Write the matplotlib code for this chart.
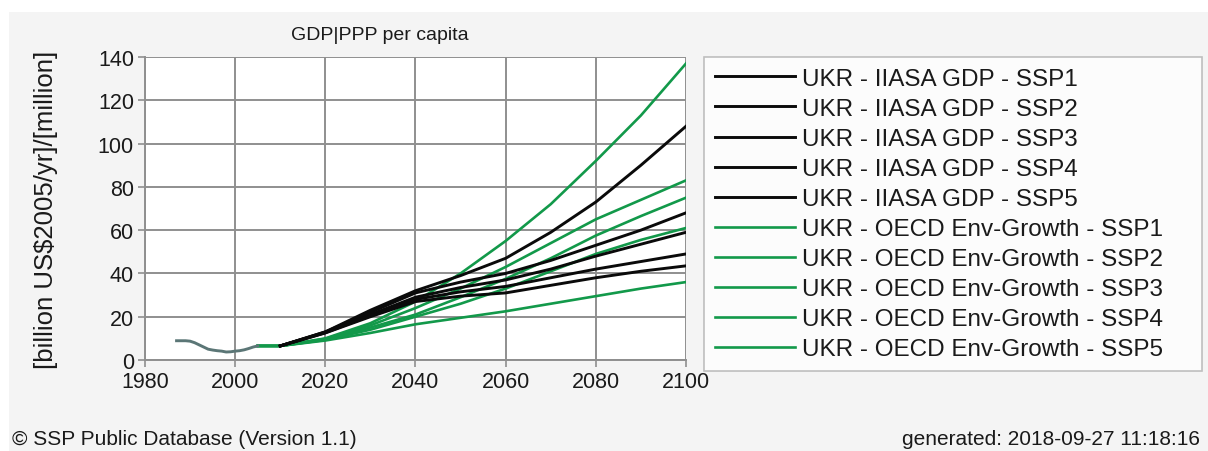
import matplotlib
matplotlib.use('Agg')
import matplotlib.pyplot as plt
from matplotlib.patches import Rectangle

plt.rcParams['font.family'] = ['Liberation Sans', 'DejaVu Sans']

# historical data (grey line)
hist_years = [1987, 1988, 1989, 1990, 1991, 1992, 1993, 1994, 1995, 1996,
              1997, 1998, 1999, 2000, 2001, 2002, 2003, 2004, 2005]
hist_vals = [8.9, 8.9, 8.9, 8.7, 8.0, 7.0, 6.0, 5.0, 4.6, 4.3,
             4.1, 3.7, 3.8, 4.1, 4.3, 4.7, 5.3, 6.0, 6.5]

# IIASA GDP projections (black)
iiasa_years = [2010, 2020, 2030, 2040, 2050, 2060, 2070, 2080, 2090, 2100]
iiasa_ssp1 = [6.5, 13.0, 22.0, 31.0, 36.0, 40.0, 46.0, 53.0, 60.0, 68.0]
iiasa_ssp2 = [6.5, 12.8, 21.0, 29.0, 33.5, 37.0, 42.0, 48.0, 53.5, 59.0]
iiasa_ssp3 = [6.5, 12.5, 20.0, 27.0, 29.5, 31.0, 34.5, 38.0, 41.0, 43.5]
iiasa_ssp4 = [6.5, 12.6, 20.5, 28.0, 31.5, 34.0, 38.0, 42.0, 45.5, 49.0]
iiasa_ssp5 = [6.5, 13.0, 23.0, 32.0, 39.0, 47.0, 59.0, 73.0, 90.0, 108.0]

# OECD Env-Growth projections (green)
oecd_years = [2005, 2010, 2020, 2030, 2040, 2050, 2060, 2070, 2080, 2090, 2100]
oecd_ssp1 = [6.5, 6.5, 9.8, 16.0, 24.0, 33.0, 43.0, 54.0, 65.0, 74.0, 83.0]
oecd_ssp2 = [6.5, 6.5, 9.5, 15.0, 21.0, 29.0, 37.5, 47.0, 57.5, 66.5, 75.0]
oecd_ssp3 = [6.5, 6.5, 9.0, 12.5, 16.5, 19.5, 22.5, 26.0, 29.5, 33.0, 36.0]
oecd_ssp4 = [6.5, 6.5, 9.3, 14.0, 20.0, 26.0, 33.0, 41.0, 49.0, 55.5, 61.0]
oecd_ssp5 = [6.5, 6.5, 10.0, 17.0, 27.0, 40.0, 55.0, 72.0, 92.0, 113.0, 137.0]

iiasa = [iiasa_ssp1, iiasa_ssp2, iiasa_ssp3, iiasa_ssp4, iiasa_ssp5]
oecd = [oecd_ssp1, oecd_ssp2, oecd_ssp3, oecd_ssp4, oecd_ssp5]

BLACK = '#0a0a0a'
GREEN = '#12994a'
GRID = '#8f8f8f'
TEXT = '#1a1a1a'

fig = plt.figure(figsize=(12.08, 4.52), dpi=100, facecolor='white')
# grey panel behind everything
fig.patches.append(Rectangle((9 / 1208, 0), 1, 1 - 13 / 452, transform=fig.transFigure,
                             facecolor='#f4f4f4', edgecolor='none', zorder=-10))

ax = fig.add_axes([145 / 1208, 1 - 361 / 452, 541 / 1208, 303 / 452])
ax.set_facecolor('white')

black_handles = []
green_handles = []
for i, vals in enumerate(oecd):
    h, = ax.plot(oecd_years, vals, color=GREEN, lw=1.9, zorder=3,
                 label=f'UKR - OECD Env-Growth - SSP{i + 1}')
    green_handles.append(h)
for i, vals in enumerate(iiasa):
    h, = ax.plot(iiasa_years, vals, color=BLACK, lw=2.1, zorder=4,
                 label=f'UKR - IIASA GDP - SSP{i + 1}')
    black_handles.append(h)
ax.plot(hist_years, hist_vals, color='#5b7676', lw=2.1, zorder=4)

ax.set_xlim(1980, 2100)
ax.set_ylim(0, 140)
ax.set_xticks(range(1980, 2101, 20))
ax.set_yticks(range(0, 141, 20))
ax.grid(True, color=GRID, lw=1.4)
ax.set_axisbelow(True)
for side in ['top', 'right']:
    ax.spines[side].set_visible(False)
for side in ['left', 'bottom']:
    ax.spines[side].set_color(GRID)
    ax.spines[side].set_linewidth(1.4)
ax.tick_params(axis='both', colors=GRID, labelcolor=TEXT, labelsize=15.5,
               length=5, width=1.2, pad=3)

ax.set_ylabel('[billion US$2005/yr]/[million]', fontsize=18.5, color=TEXT)
ax.yaxis.set_label_coords(-0.16, 0.5)

fig.text(380 / 1208, 1 - 36 / 452, 'GDP|PPP per capita', ha='center', va='center',
         fontsize=14, color=TEXT)

leg = fig.legend(handles=black_handles + green_handles, loc='upper left',
                 bbox_to_anchor=(704 / 1208, 1 - 58 / 452, 498 / 1208, 0.0),
                 mode='expand', fontsize=17.5, frameon=True, fancybox=False,
                 handlelength=3.3, handletextpad=0.3, labelspacing=0.33,
                 borderpad=0.45, borderaxespad=0.0)
leg.get_frame().set_edgecolor('#b0b0b0')
leg.get_frame().set_linewidth(1.2)
leg.get_frame().set_facecolor('white')
for t in leg.get_texts():
    t.set_color(TEXT)

fig.text(12 / 1208, 1 - 440 / 452, '\u00a9 SSP Public Database (Version 1.1)',
         ha='left', va='center', fontsize=15, color=TEXT)
fig.text(1200 / 1208, 1 - 440 / 452, 'generated: 2018-09-27 11:18:16',
         ha='right', va='center', fontsize=15, color=TEXT)

fig.savefig('out.png', dpi=100, facecolor=fig.get_facecolor())
